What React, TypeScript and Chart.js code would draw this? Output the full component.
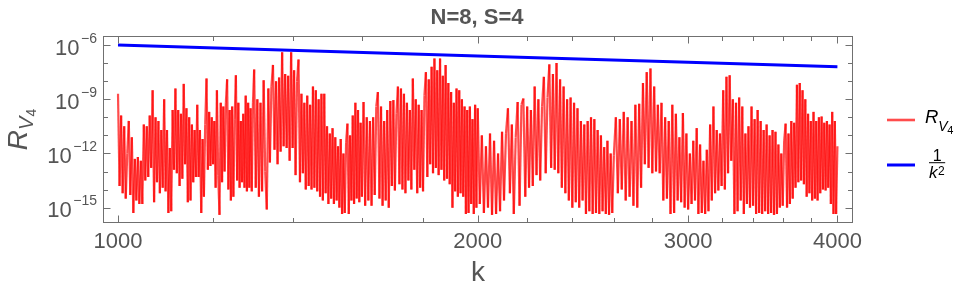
import { useEffect, useRef } from "react";
import { Chart, registerables } from "chart.js";

Chart.register(...registerables);

// ---------- data ----------
// k values at which R_V4 was read
const kSamples: number[] = [
  1000, 1003, 1006, 1009, 1012, 1015, 1018, 1021, 1024, 1027,
  1030, 1033, 1036, 1039, 1042, 1045, 1048, 1051, 1054, 1057,
  1060, 1063, 1066, 1069, 1072, 1075, 1078, 1081, 1084, 1087,
  1090, 1093, 1096, 1099, 1102, 1105, 1108, 1111, 1114, 1117,
  1120, 1123, 1126, 1129, 1132, 1135, 1138, 1141, 1144, 1147,
  1150, 1153, 1156, 1159, 1162, 1165, 1168, 1171, 1174, 1177,
  1180, 1183, 1186, 1189, 1192, 1195, 1198, 1201, 1204, 1207,
  1210, 1213, 1216, 1219, 1222, 1225, 1228, 1231, 1234, 1237,
  1240, 1243, 1246, 1249, 1252, 1255, 1258, 1261, 1264, 1267,
  1270, 1273, 1276, 1279, 1282, 1285, 1288, 1291, 1294, 1297,
  1300,
  1304, 1308, 1312, 1316, 1320, 1324, 1328, 1332, 1336, 1340,
  1344, 1348, 1352, 1356, 1360, 1364, 1368, 1372, 1376, 1380,
  1384, 1388, 1392, 1396, 1400, 1404, 1408, 1412, 1416, 1420,
  1424, 1428, 1432, 1436, 1440, 1444, 1448, 1452, 1456, 1460,
  1464, 1468, 1472, 1476, 1480, 1484, 1488, 1492, 1496, 1500,
  1504, 1508, 1512, 1516, 1520, 1524, 1528, 1532, 1536, 1540,
  1544, 1548, 1552, 1556, 1560, 1564, 1568, 1572, 1576, 1580,
  1584, 1588, 1592, 1596, 1600,
  1605, 1610, 1615, 1620, 1625, 1630, 1635, 1640, 1645, 1650,
  1655, 1660, 1665, 1670, 1675, 1680, 1685, 1690, 1695, 1700,
  1705, 1710, 1715, 1720, 1725, 1730, 1735, 1740, 1745, 1750,
  1755, 1760, 1765, 1770, 1775, 1780, 1785, 1790, 1795, 1800,
  1805, 1810, 1815, 1820, 1825, 1830, 1835, 1840, 1845, 1850,
  1855, 1860, 1865, 1870, 1875, 1880, 1885, 1890, 1895, 1900,
  1905, 1910, 1915, 1920, 1925, 1930, 1935, 1940, 1945, 1950,
  1955, 1960, 1965, 1970, 1975, 1980, 1985, 1990, 1995, 2000,
  2008, 2016, 2024, 2032, 2040, 2048, 2056, 2064, 2072, 2080,
  2088, 2096, 2104, 2112, 2120, 2128, 2136, 2144, 2152, 2160,
  2168, 2176, 2184, 2192, 2200, 2208, 2216, 2224, 2232, 2240,
  2248, 2256, 2264, 2272, 2280, 2288, 2296, 2304, 2312, 2320,
  2328, 2336, 2344, 2352, 2360, 2368, 2376, 2384, 2392, 2400,
  2408, 2416, 2424, 2432, 2440, 2448, 2456, 2464, 2472, 2480,
  2488, 2496, 2504, 2512, 2520, 2528, 2536, 2544, 2552, 2560,
  2568, 2576, 2584, 2592, 2600,
  2610, 2620, 2630, 2640, 2650, 2660, 2670, 2680, 2690, 2700,
  2710, 2720, 2730, 2740, 2750, 2760, 2770, 2780, 2790, 2800,
  2810, 2820, 2830, 2840, 2850, 2860, 2870, 2880, 2890, 2900,
  2910, 2920, 2930, 2940, 2950, 2960, 2970, 2980, 2990, 3000,
  3010, 3020, 3030, 3040, 3050, 3060, 3070, 3080, 3090, 3100,
  3110, 3120, 3130, 3140, 3150, 3160, 3170, 3180, 3190, 3200,
  3210, 3220, 3230, 3240, 3250, 3260, 3270, 3280, 3290, 3300,
  3310, 3320, 3330, 3340, 3350, 3360, 3370, 3380, 3390, 3400,
  3410, 3420, 3430, 3440, 3450, 3460, 3470, 3480, 3490, 3500,
  3510, 3520, 3530, 3540, 3550, 3560, 3570, 3580, 3590, 3600,
  3610, 3620, 3630, 3640, 3650, 3660, 3670, 3680, 3690, 3700,
  3710, 3720, 3730, 3740, 3750, 3760, 3770, 3780, 3790, 3800,
  3810, 3820, 3830, 3840, 3850, 3860, 3870, 3880, 3890, 3900,
  3910, 3920, 3930, 3940, 3950, 3960, 3970, 3980, 3990, 4000,
];

// log10 of R_V4 at each k above
const rV4Log10: number[] = [
  -8.7, -13.8, -9.9, -14.2, -10.5, -14.5, -12.0, -10.2, -14.3, -11.1,
  -15.3, -12.3, -14.6, -12.2, -14.8, -12.4, -14.8, -10.4, -13.5, -10.5,
  -13.3, -9.9, -12.8, -8.5, -14.7, -10.0, -13.6, -10.2, -14.2, -10.7,
  -13.9, -9.0, -14.1, -10.7, -15.3, -11.7, -15.2, -9.6, -12.9, -8.4,
  -13.1, -9.6, -13.8, -9.8, -13.4, -8.15, -12.6, -9.5, -14.7, -10.0,
  -14.6, -10.4, -13.6, -10.7, -13.3, -9.3, -13.3, -10.7, -15.3, -11.2,
  -14.4, -10.4, -7.85, -12.9, -9.7, -12.7, -10.0, -12.6, -10.2, -13.9,
  -8.5, -13.2, -15.4, -9.2, -13.6, -9.4, -13.0, -9.2, -7.9, -14.0,
  -9.6, -14.6, -9.4, -14.4, -10.1, -7.67, -13.5, -9.2, -13.9, -10.2,
  -13.6, -9.8, -13.9, -8.8, -14.1, -9.2, -13.9, -9.5, -14.1, -9.2,
  -7.35,
  -13.9, -9.0, -14.4, -9.2, -14.1, -7.95, -13.0, -15.1, -8.4, -12.5,
  -8.3, -7.1, -11.8, -8.0, -12.6, -7.8, -11.9, -6.4, -11.6, -7.6,
  -11.7, -7.7, -12.4, -6.4, -11.7, -7.4, -13.2, -8.0, -6.8, -13.6,
  -8.7, -13.1, -9.2, -14.0, -8.8, -13.8, -9.3, -14.0, -8.3, -13.9,
  -8.5, -14.1, -9.0, -14.4, -8.7, -14.6, -8.7, -14.2, -10.5, -14.8,
  -10.9, -14.5, -10.6, -14.8, -11.1, -14.6, -11.6, -15.0, -11.2, -15.35,
  -12.0, -15.3, -11.4, -10.35, -15.35, -11.0, -14.6, -9.9, -14.8, -9.2,
  -14.5, -9.6, -14.7, -10.3, -14.4,
  -9.15, -14.9, -10.0, -14.6, -10.2, -14.9, -10.0, -14.3, -9.4, -8.6,
  -14.5, -9.4, -14.9, -10.2, -14.6, -9.6, -15.0, -9.1, -13.8, -9.05,
  -14.05, -9.8, -8.3, -13.7, -8.4, -14.0, -8.7, -14.2, -9.2, -13.5,
  -9.6, -14.0, -7.85, -12.9, -9.0, -14.2, -9.3, -13.9, -9.6, -14.1,
  -8.8, -7.5, -13.3, -7.9, -12.6, -7.2, -13.1, -6.74, -12.8, -7.4,
  -13.2, -6.74, -12.9, -7.7, -13.5, -7.1, -13.4, -8.1, -13.7, -8.6,
  -15.0, -9.2, -14.1, -8.4, -14.4, -8.5, -14.2, -9.0, -14.4, -9.4,
  -15.35, -9.6, -15.3, -9.4, -14.8, -10.1, -15.35, -9.3, -15.0, -9.5,
  -14.8, -11.0, -15.3, -11.6, -15.0, -10.9, -15.4, -11.3, -15.35, -12.0,
  -15.2, -10.8, -14.6, -10.9, -9.5, -14.2, -10.4, -15.35, -11.1, -9.15,
  -14.9, -9.3, -8.96, -14.4, -9.4, -13.9, -9.6, -13.8, -8.3, -13.2,
  -9.0, -13.5, -9.4, -7.76, -13.1, -8.9, -7.07, -12.8, -7.6, -12.9,
  -7.0, -13.1, -7.9, -13.9, -8.3, -14.2, -9.0, -14.6, -8.9, -15.0,
  -9.2, -14.7, -9.5, -15.0, -10.2, -14.6, -10.4, -15.35, -10.2, -15.2,
  -10.0, -15.35, -10.1, -15.3, -10.7, -15.35, -11.0, -15.2, -11.65, -15.35,
  -11.3, -15.4, -12.0, -15.3, -12.1,
  -10.0, -14.2, -10.1, -14.0, -9.7, -14.6, -10.0, -14.4, -10.2, -14.9,
  -9.3, -15.0, -9.25, -13.9, -8.1, -12.6, -7.5, -12.8, -7.3, -13.1,
  -8.3, -13.0, -9.3, -13.1, -9.2, -14.6, -10.0, -14.5, -10.2, -15.35,
  -9.3, -15.3, -9.8, -14.6, -11.1, -14.7, -9.76, -15.0, -10.9, -15.1,
  -12.0, -14.8, -11.3, -14.6, -10.6, -15.35, -11.5, -15.3, -12.4, -15.35,
  -11.8, -15.2, -10.4, -14.6, -9.4, -14.2, -10.7, -14.05, -10.9, -13.8,
  -8.5, -14.0, -7.76, -13.1, -7.67, -12.4, -9.0, -15.35, -9.2, -15.2,
  -8.9, -14.6, -9.4, -15.35, -10.9, -14.8, -10.5, -15.0, -9.4, -14.9,
  -10.1, -15.35, -9.6, -15.3, -10.2, -15.35, -10.7, -15.2, -10.4, -15.35,
  -11.0, -15.3, -10.7, -15.4, -10.8, -15.35, -11.5, -15.0, -12.0, -14.9,
  -11.3, -10.35, -15.0, -10.9, -14.8, -10.2, -14.5, -10.3, -13.9, -8.2,
  -13.6, -8.1, -13.5, -8.5, -13.7, -9.0, -14.4, -9.8, -14.2, -10.2,
  -14.6, -9.7, -14.5, -10.2, -14.6, -10.0, -14.2, -9.95, -14.0, -10.3,
  -14.05, -10.2, -13.9, -10.4, -14.8, -9.7, -15.35, -10.2, -15.35, -11.6,
];

// 1/k^2 reference line
const refK: number[] = [1000, 2000, 3000, 4000];
const refValues: number[] = [1.0e-6, 2.5e-7, 1.111e-7, 6.25e-8];

// axis ticks
const xTickValues: number[] = [1000, 1200, 1400, 1600, 1800, 2000, 2200, 2400, 2600, 2800, 3000, 3200, 3400, 3600, 3800, 4000];
const xLabelValues: number[] = [1000, 2000, 3000, 4000];
const xLabelTexts: string[] = ["1000", "2000", "3000", "4000"];
const yTickExponents: number[] = [-6, -7, -8, -9, -10, -11, -12, -13, -14, -15];
const yLabelExponents: number[] = [-6, -9, -12, -15];
const yLabelExpTexts: string[] = ["\u22126", "\u22129", "\u221212", "\u221215"];

const titleText = "N=8, S=4";
const xTitleText = "k";

// ---------- styling ----------
const FONT = '"Liberation Sans", Arial, Helvetica, sans-serif';
const TEXT = "#555555";
const FRAME = "#707070";
const RED_A = "rgba(255,0,0,0.7)";
const RED_B = "rgba(255,0,0,0.701)";
const BLUE = "rgb(0,0,255)";

const overlay = {
  id: "mmaOverlay",
  afterDraw(chart: any) {
    const { ctx, chartArea: a } = chart;
    const xs = chart.scales.x;
    const ys = chart.scales.y;
    ctx.save();

    // frame + inward ticks
    const L = Math.round(a.left) + 0.5;
    const R = Math.round(a.right) - 0.5;
    const T = Math.round(a.top) + 0.5;
    const B = Math.round(a.bottom) - 0.5;
    ctx.strokeStyle = FRAME;
    ctx.lineWidth = 1;
    ctx.strokeRect(L, T, R - L, B - T);
    ctx.beginPath();
    for (const v of xTickValues) {
      const px = Math.round(xs.getPixelForValue(v)) + 0.5;
      const len = xLabelValues.includes(v) ? 7 : 4.5;
      ctx.moveTo(px, B);
      ctx.lineTo(px, B - len);
      ctx.moveTo(px, T);
      ctx.lineTo(px, T + len);
    }
    for (const e of yTickExponents) {
      const py = Math.round(ys.getPixelForValue(Math.pow(10, e))) + 0.5;
      const len = yLabelExponents.includes(e) ? 7 : 4.5;
      ctx.moveTo(L, py);
      ctx.lineTo(L + len, py);
      ctx.moveTo(R, py);
      ctx.lineTo(R - len, py);
    }
    ctx.stroke();

    // x tick labels
    ctx.fillStyle = TEXT;
    ctx.textBaseline = "alphabetic";
    ctx.textAlign = "center";
    ctx.font = `22px ${FONT}`;
    xLabelValues.forEach((v, i) => {
      ctx.fillText(xLabelTexts[i], xs.getPixelForValue(v), 248);
    });

    // y tick labels 10^e
    yLabelExponents.forEach((e, i) => {
      const py = ys.getPixelForValue(Math.pow(10, e));
      ctx.textAlign = "right";
      ctx.font = `14px ${FONT}`;
      const expStr = yLabelExpTexts[i];
      ctx.fillText(expStr, 97, py - 2.5);
      const w = ctx.measureText(expStr).width;
      ctx.font = `22px ${FONT}`;
      ctx.fillText("10", 97 - w - 1.5, py + 9.5);
    });

    // title
    ctx.textAlign = "center";
    ctx.font = `bold 22px ${FONT}`;
    ctx.fillText(titleText, 477, 23.5);

    // x axis title
    ctx.font = `28px ${FONT}`;
    ctx.fillText(xTitleText, (a.left + a.right) / 2, 281);

    // y axis title R_{V_4}, rotated
    ctx.textAlign = "left";
    ctx.font = `italic 28px ${FONT}`;
    const wR = ctx.measureText("R").width;
    ctx.font = `italic 20px ${FONT}`;
    const wV = ctx.measureText("V").width;
    ctx.font = `14px ${FONT}`;
    const w4 = ctx.measureText("4").width;
    const total = wR + wV + w4;
    ctx.save();
    ctx.translate(27, (a.top + a.bottom) / 2 + total / 2);
    ctx.rotate(-Math.PI / 2);
    ctx.font = `italic 28px ${FONT}`;
    ctx.fillText("R", 0, 0);
    ctx.font = `italic 20px ${FONT}`;
    ctx.fillText("V", wR, 6);
    ctx.font = `14px ${FONT}`;
    ctx.fillText("4", wR + wV, 8.5);
    ctx.restore();

    // legend
    ctx.lineWidth = 2.6;
    ctx.strokeStyle = RED_A;
    ctx.beginPath();
    ctx.moveTo(887, 120);
    ctx.lineTo(915, 120);
    ctx.stroke();
    ctx.lineWidth = 3;
    ctx.strokeStyle = BLUE;
    ctx.beginPath();
    ctx.moveTo(887, 165);
    ctx.lineTo(915, 165);
    ctx.stroke();

    ctx.fillStyle = "#000";
    ctx.textAlign = "left";
    ctx.font = `italic 18.5px ${FONT}`;
    ctx.fillText("R", 925, 123.3);
    const lR = ctx.measureText("R").width;
    ctx.font = `italic 14px ${FONT}`;
    ctx.fillText("V", 925 + lR, 130.5);
    const lV = ctx.measureText("V").width;
    ctx.font = `11px ${FONT}`;
    ctx.fillText("4", 925 + lR + lV - 0.5, 133.5);

    // 1/k^2 fraction
    ctx.font = `italic 17px ${FONT}`;
    const wk = ctx.measureText("k").width;
    ctx.font = `12px ${FONT}`;
    const w2 = ctx.measureText("2").width;
    const fx = 929;
    const fw = wk + w2 + 1;
    ctx.font = `16px ${FONT}`;
    ctx.textAlign = "center";
    ctx.fillText("1", fx + fw / 2, 160.5);
    ctx.fillRect(fx, 162.2, fw, 1);
    ctx.textAlign = "left";
    ctx.font = `italic 17px ${FONT}`;
    ctx.fillText("k", fx, 178.3);
    ctx.font = `12px ${FONT}`;
    ctx.fillText("2", fx + wk + 0.5, 174.5);

    ctx.restore();
  },
};

export default function App() {
  const ref = useRef<HTMLCanvasElement>(null);

  useEffect(() => {
    if (!ref.current) return;
    const n = Math.min(kSamples.length, rV4Log10.length);
    const redData = kSamples.slice(0, n).map((k, i) => ({ x: k, y: Math.pow(10, rV4Log10[i]) }));
    const blueData = refK.map((k, i) => ({ x: k, y: refValues[i] }));
    const chart = new Chart(ref.current, {
      type: "line",
      data: {
        datasets: [
          {
            label: "R_V4",
            data: redData,
            borderColor: RED_A,
            borderWidth: 2.2,
            pointRadius: 0,
            tension: 0,
            order: 1,
            segment: {
              borderColor: (c: any) => (c.p0DataIndex % 2 ? RED_A : RED_B),
            },
          },
          {
            label: "1/k^2",
            data: blueData,
            borderColor: BLUE,
            borderWidth: 3,
            pointRadius: 0,
            tension: 0,
            order: 0,
          },
        ],
      },
      options: {
        animation: false,
        responsive: false,
        maintainAspectRatio: false,
        events: [],
        layout: { padding: { left: 103, top: 36, right: 114, bottom: 73 } },
        plugins: {
          legend: { display: false },
          tooltip: { enabled: false },
          title: { display: false },
        },
        scales: {
          x: { type: "logarithmic", min: 971.5, max: 4122, display: false },
          y: { type: "logarithmic", min: Math.pow(10, -15.85), max: Math.pow(10, -5.5), display: false },
        },
      },
      plugins: [overlay],
    } as any);
    return () => chart.destroy();
  }, []);

  return (
    <div style={{ position: "absolute", left: 0, top: 0, width: 967, height: 296, background: "#fff" }}>
      <canvas ref={ref} width={967} height={296} style={{ display: "block", width: 967, height: 296 }} />
    </div>
  );
}
